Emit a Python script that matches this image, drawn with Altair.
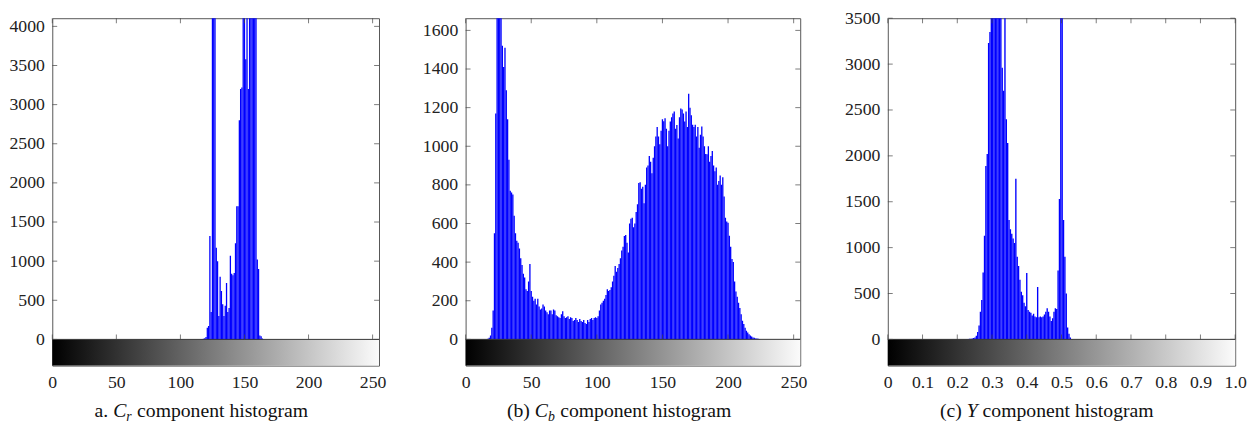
import altair as alt
import pandas as pd

# ---------------- data (counts) ----------------
CR_START = 116
CR_COUNTS = [3, 5, 8, 15, 30, 150, 170, 1320, 350, 5500, 6000, 5000, 1170, 1000, 300,
             800, 620, 450, 300, 430, 720, 350, 400, 1070, 840, 820, 850, 1230, 1700,
             1700, 2800, 3200, 3220, 4800, 5500, 3580, 5000, 3200, 4600, 5500, 6000,
             5000, 4500, 4300, 1020, 900, 50, 40, 10, 3]

CB_START = 17
CB_COUNTS = [3, 8, 20, 60, 150, 550, 1170, 1800, 2000, 1900, 1750, 1520, 1410, 1510,
             1290, 1140, 930, 770, 760, 750, 640, 550, 510, 500, 470, 420, 385, 340,
             320, 260, 250, 300, 390, 250, 220, 200, 210, 180, 210, 170, 155, 160, 180,
             170, 150, 140, 130, 150, 150, 130, 155, 150, 125, 120, 115, 110, 130, 145,
             120, 110, 115, 120, 105, 115, 110, 95, 100, 110, 100, 90, 105, 95, 90, 100,
             85, 80, 100, 90, 105, 110, 100, 110, 115, 110, 120, 150, 180, 190, 200,
             210, 230, 260, 250, 255, 270, 300, 330, 380, 350, 370, 390, 420, 460, 480,
             535, 540, 500, 450, 600, 625, 630, 580, 600, 660, 700, 810, 814, 780, 790,
             705, 800, 890, 900, 950, 920, 860, 940, 1000, 1050, 1100, 1050, 1010, 1080,
             1140, 1130, 1145, 1090, 1000, 1080, 1128, 1150, 1170, 1180, 1090, 1110,
             1040, 1150, 1196, 1190, 1170, 1128, 1180, 1100, 1272, 1200, 1160, 1111,
             1100, 1111, 1050, 1100, 992, 1060, 1102, 1050, 1000, 960, 958, 1000, 920,
             950, 975, 900, 870, 890, 800, 820, 848, 800, 839, 740, 630, 610, 604, 536,
             480, 416, 400, 300, 248, 220, 190, 163, 130, 96, 80, 60, 44, 35, 27, 20,
             15, 10, 8, 5, 4, 3, 2]

Y_START = 58
Y_COUNTS = [3, 5, 6, 8, 10, 15, 20, 40, 80, 150, 300, 430, 730, 1130, 1890, 2020, 3230,
            3350, 3800, 4000, 4200, 4500, 4300, 4100, 3900, 3700, 2960, 2710, 3900, 2400,
            2140, 1300, 1200, 1150, 1100, 1050, 1750, 900, 800, 650, 520, 480, 400, 360,
            724, 320, 300, 290, 260, 280, 250, 240, 570, 240, 250, 240, 250, 270, 300,
            340, 300, 250, 200, 230, 300, 340, 330, 750, 1530, 4500, 4200, 1300, 900,
            500, 130, 60, 20, 5]

LEVELS = 255  # histogram bins 0..255

CR_XTICKS = [0, 50, 100, 150, 200, 250]
CB_XTICKS = [0, 50, 100, 150, 200, 250]
Y_XTICKS = [0, 0.1, 0.2, 0.3, 0.4, 0.5, 0.6, 0.7, 0.8, 0.9, 1.0]
CR_YTICKS = [0, 500, 1000, 1500, 2000, 2500, 3000, 3500, 4000]
CB_YTICKS = [0, 200, 400, 600, 800, 1000, 1200, 1400, 1600]
Y_YTICKS = [0, 500, 1000, 1500, 2000, 2500, 3000, 3500]

CR_YDOMAIN = [-335, 4104]
CB_YDOMAIN = [-136, 1663]
Y_YDOMAIN = [-286, 3500]

# caption pieces: (text, style, subscript, space before)
CAPTIONS = [
    [("a.", "normal", False, 0), ("C", "italic", False, 1), ("r", "italic", True, 0),
     ("component histogram", "normal", False, 1)],
    [("(b)", "normal", False, 0), ("C", "italic", False, 1), ("b", "italic", True, 0),
     ("component histogram", "normal", False, 1)],
    [("(c)", "normal", False, 0), ("Y", "italic", False, 1),
     ("component histogram", "normal", False, 1)],
]

# ---------------- styling ----------------
FONT = "Liberation Serif"
BLUE = "#0000ff"
TICK_FONT = 18
CAP_FONT = 20
SUB_FONT = 14
HEIGHT = 353

# approximate Times glyph advance widths (em) used to lay caption pieces side by side
_W = {' ': 0.25, '.': 0.25, 'a': 0.444, '(': 0.333, ')': 0.333, 'b': 0.5, 'c': 0.444,
      'C': 0.667, 'Y': 0.556, 'r': 0.389}


def seg_width(text, size):
    return sum(_W.get(ch, 0.5) for ch in text) * size


def hist_df(start, counts, unit):
    rows = []
    for i, c in enumerate(counts):
        v = start + i
        rows.append({"x0": (v - 0.5) * unit, "x1": (v + 0.5) * unit, "count": c})
    return pd.DataFrame(rows)


def panel(df, width, xdom, ydom, xticks, yticks, caption, cap_x, label_expr):
    xs = alt.Scale(domain=xdom, nice=False, zero=False)
    ys = alt.Scale(domain=ydom, nice=False, zero=False)
    xaxis = alt.Axis(values=xticks, ticks=False, domain=False, grid=False, labelPadding=8,
                     title=None, labelFlush=False, labelExpr=label_expr,
                     labelFont=FONT, labelFontSize=TICK_FONT, labelColor="#222")
    yaxis = alt.Axis(values=yticks, ticks=False, domain=False, grid=False, labelPadding=8,
                     title=None, labelExpr="format(datum.value, 'd')",
                     labelFont=FONT, labelFontSize=TICK_FONT, labelColor="#222")

    one = alt.Data(values=[{"k": 1}])

    grad = alt.Chart(one).mark_rect(
        color=alt.LinearGradient(
            gradient="linear",
            stops=[alt.GradientStop(color="#000000", offset=0),
                   alt.GradientStop(color="#fbfbfb", offset=1)],
            x1=0, x2=1, y1=0, y2=0)
    ).encode(
        x=alt.XDatum(xdom[0], type="quantitative", scale=xs, axis=xaxis),
        x2=alt.X2Datum(xdom[1]),
        y=alt.YDatum(ydom[0], type="quantitative", scale=ys, axis=yaxis),
        y2=alt.Y2Datum(0),
    )

    bars = alt.Chart(df).mark_bar(color=BLUE, clip=True).encode(
        x=alt.X("x0:Q", scale=xs, axis=xaxis),
        x2="x1:Q",
        y=alt.Y("count:Q", scale=ys, axis=yaxis),
        y2=alt.Y2Datum(0),
    )

    zero = alt.Chart(one).mark_rule(color="#333", strokeWidth=1).encode(
        y=alt.YDatum(0, type="quantitative", scale=ys, axis=yaxis)
    )

    ydf = pd.DataFrame({"t": yticks})
    xdf = pd.DataFrame({"t": xticks})
    tick_style = dict(size=5, thickness=1, color="#444")
    lt = alt.Chart(ydf).mark_tick(**tick_style).encode(
        y=alt.Y("t:Q", scale=ys, axis=yaxis), x=alt.value(2.5))
    rt = alt.Chart(ydf).mark_tick(**tick_style).encode(
        y=alt.Y("t:Q", scale=ys, axis=yaxis), x=alt.value(width - 2.5))
    tt = alt.Chart(xdf).mark_tick(**tick_style).encode(
        x=alt.X("t:Q", scale=xs, axis=xaxis), y=alt.value(2.5))
    zt = alt.Chart(xdf).mark_tick(yOffset=-2.5, **tick_style).encode(
        x=alt.X("t:Q", scale=xs, axis=xaxis),
        y=alt.YDatum(0, type="quantitative", scale=ys, axis=yaxis))

    layers = [grad, bars, zero, lt, rt, tt, zt]

    # caption pieces laid side by side
    cx = cap_x
    base_y = 405
    for text, style, sub, space in caption:
        size = SUB_FONT if sub else CAP_FONT
        cx += space * seg_width(" ", CAP_FONT)
        t = alt.Chart(one).mark_text(
            font=FONT, fontSize=size, fontStyle=style, align="left",
            baseline="alphabetic", color="#111"
        ).encode(x=alt.value(cx), y=alt.value(base_y + (4 if sub else 0)),
                 text=alt.value(text))
        layers.append(t)
        cx += seg_width(text, size) + (0.5 if sub else 0)

    return alt.layer(*layers).properties(width=width, height=HEIGHT)


INT_FMT = "format(datum.value, 'd')"
p1 = panel(hist_df(CR_START, CR_COUNTS, 1), 332, [0, 255], CR_YDOMAIN, CR_XTICKS,
           CR_YTICKS, CAPTIONS[0], 43, INT_FMT)
p2 = panel(hist_df(CB_START, CB_COUNTS, 1), 340, [0, 255], CB_YDOMAIN, CB_XTICKS,
           CB_YTICKS, CAPTIONS[1], 42, INT_FMT)
p3 = panel(hist_df(Y_START, Y_COUNTS, 1 / LEVELS), 353, [0, 1], Y_YDOMAIN, Y_XTICKS,
           Y_YTICKS, CAPTIONS[2], 53,
           "datum.value == 0 ? '0' : format(datum.value, '.1f')")

chart = alt.hconcat(alt.hconcat(p1, p2, spacing=35), p3, spacing=36).properties(
    padding={"left": 0, "top": -3, "right": 0, "bottom": 0}
).configure_axis(
    labelFont=FONT, labelFontSize=TICK_FONT, labelColor="#222"
).configure_view(stroke="#555", strokeWidth=1)

chart.save("out.html", embed_options={"renderer": "svg", "actions": False})
